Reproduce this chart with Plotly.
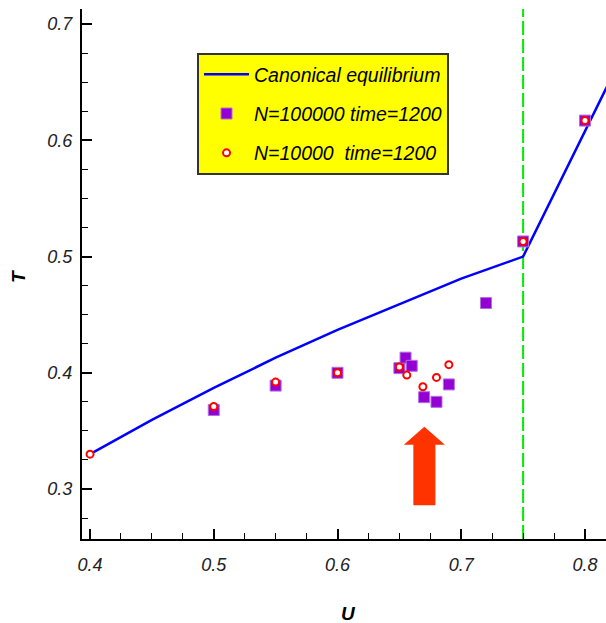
import plotly.graph_objects as go

# ---- data ----
canon_U = [0.40, 0.45, 0.50, 0.55, 0.60, 0.65, 0.70, 0.75, 0.80, 0.82]
canon_T = [0.330, 0.3595, 0.387, 0.413, 0.437, 0.459, 0.481, 0.500, 0.608, 0.651]

big_U = [0.50, 0.55, 0.60, 0.650, 0.655, 0.660, 0.670, 0.680, 0.690, 0.720, 0.75, 0.80]
big_T = [0.368, 0.389, 0.400, 0.404, 0.413, 0.406, 0.379, 0.375, 0.390, 0.460, 0.513, 0.617]

small_U = [0.40, 0.50, 0.55, 0.60, 0.650, 0.656, 0.669, 0.680, 0.690, 0.75, 0.80]
small_T = [0.330, 0.371, 0.392, 0.400, 0.405, 0.398, 0.388, 0.396, 0.407, 0.513, 0.617]

transition_U = 0.75

arrow_U = 0.6702
arrow_tip = 0.3535
arrow_head_base = 0.338
arrow_tail = 0.286
arrow_head_half = 0.0166
arrow_shaft_half = 0.0089

x_range = [0.3935, 0.817]
y_range = [0.257, 0.713]

fig = go.Figure()
fig.add_trace(go.Scatter(
    x=canon_U, y=canon_T, mode="lines", name="Canonical equilibrium",
    line=dict(color="#0000FF", width=2.5), legendgroup="a"))
fig.add_trace(go.Scatter(
    x=big_U, y=big_T, mode="markers", name="N=100000 time=1200",
    marker=dict(symbol="square", size=11, color="#9400D3",
                line=dict(color="#B070E0", width=1)), legendgroup="b"))
fig.add_trace(go.Scatter(
    x=small_U, y=small_T, mode="markers", name="N=10000\u00a0\u00a0time=1200",
    marker=dict(symbol="circle", size=7, color="white",
                line=dict(color="#FF0000", width=2)), legendgroup="c"))

# transition line
fig.add_shape(type="line", xref="x", yref="paper", x0=transition_U, x1=transition_U,
              y0=0, y1=1, line=dict(color="#00EE00", width=2, dash="14px,4px"), layer="below")

# arrow
p = [
    (arrow_U, arrow_tip),
    (arrow_U + arrow_head_half, arrow_head_base),
    (arrow_U + arrow_shaft_half, arrow_head_base),
    (arrow_U + arrow_shaft_half, arrow_tail),
    (arrow_U - arrow_shaft_half, arrow_tail),
    (arrow_U - arrow_shaft_half, arrow_head_base),
    (arrow_U - arrow_head_half, arrow_head_base),
]
path = "M " + " L ".join(f"{u},{t}" for u, t in p) + " Z"
fig.add_shape(type="path", path=path, xref="x", yref="y",
              fillcolor="#FF3300", line=dict(width=0))

tickfont = dict(family="Liberation Sans, Arial, sans-serif", size=18, color="#222222", style="italic")
axis_common = dict(
    showline=True, linecolor="black", linewidth=2, mirror=False,
    showgrid=False, zeroline=False, ticks="inside", ticklen=10, tickwidth=1.5,
    tickcolor="black", tickfont=tickfont, dtick=0.1, tickformat=".1f",
    minor=dict(ticks="inside", ticklen=6, tickwidth=1, tickcolor="black", dtick=0.025, showgrid=False),
)
fig.update_xaxes(range=x_range, tick0=0.4, ticklabelstandoff=8, **axis_common)
fig.update_yaxes(range=y_range, tick0=0.3, ticklabelstandoff=4, **axis_common)

title_font = dict(family="Liberation Sans, Arial, sans-serif", size=19, color="black",
                  weight="bold", style="italic")
fig.add_annotation(text="T", xref="paper", yref="paper", x=-0.146, y=0.496,
                   showarrow=False, textangle=-90, font=title_font)
fig.add_annotation(text="U", xref="paper", yref="paper", x=0.508, y=-0.164,
                   showarrow=False, font=title_font)

fig.update_layout(
    width=606, height=623,
    margin=dict(l=82, r=0, t=9, b=84),
    plot_bgcolor="white", paper_bgcolor="white",
    showlegend=True,
    legend=dict(
        x=0.2195, y=0.917, xanchor="left", yanchor="top",
        bgcolor="#FFFF00", bordercolor="#333333", borderwidth=2,
        font=dict(family="Liberation Sans, Arial, sans-serif", size=19.5, color="black", style="italic"),
        tracegroupgap=11, itemwidth=45,
    ),
)

fig.write_html("out.html")
